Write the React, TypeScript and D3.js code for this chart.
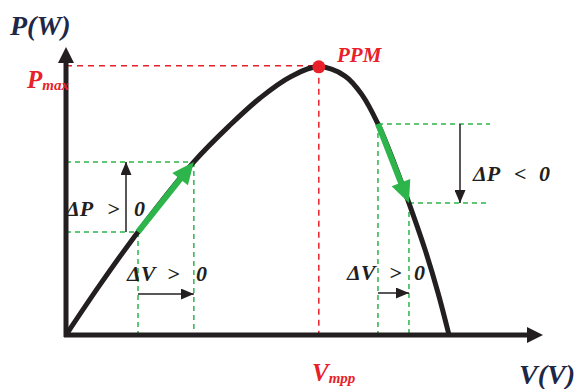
import * as d3 from "d3";
import { useEffect, useRef } from "react";

// P-V curve of a PV panel (V in arbitrary units, P in arbitrary units)
const voltage = [0, 7.1, 15.1, 26.8, 34.4, 40.7, 47.0, 53.0, 58.5, 62.1, 65.4, 68.8, 71.9, 75.3, 78.0, 80.3];
const power = [0, 17.4, 35.8, 60.1, 72.9, 82.3, 89.6, 93.1, 89.9, 83.3, 73.3, 59.7, 45.8, 29.5, 14.6, 0];

// maximum power point
const mpp = { v: 53.0, p: 93.1 };
// perturbation steps: left side (rising) and right side (falling)
const stepLeft = { v0: 15.1, p0: 35.8, v1: 26.8, p1: 60.1 };
const stepRight = { v0: 65.4, p0: 73.3, v1: 71.9, p1: 45.8 };

const labels = {
  yAxis: "P(W)",
  xAxis: "V(V)",
  mpp: "PPM",
};
// delta labels split in pieces: [quantity, sign, zero]
const dpPos = ["ΔP", ">", "0"];
const dpNeg = ["ΔP", "<", "0"];
const dvPos = ["ΔV", ">", "0"];

const W = 587, H = 389;
const GREEN = "#2db54b";
const RED = "#e8202a";
const INK = "#231f20";

const App = () => {
  const ref = useRef<SVGSVGElement | null>(null);

  useEffect(() => {
    const svg = d3.select(ref.current);
    svg.selectAll("*").remove();

    const x = d3.scaleLinear().domain([0, 100]).range([66, 543]);
    const y = d3.scaleLinear().domain([0, 100]).range([335, 47]);

    const defs = svg.append("defs");
    const marker = (id: string, color: string, w: number, h: number) => {
      defs.append("marker")
        .attr("id", id)
        .attr("viewBox", `0 0 ${w} ${h}`)
        .attr("refX", w).attr("refY", h / 2)
        .attr("markerWidth", w).attr("markerHeight", h)
        .attr("markerUnits", "userSpaceOnUse")
        .attr("orient", "auto")
        .append("path")
        .attr("d", `M0,0L${w},${h / 2}L0,${h}Z`)
        .attr("fill", color);
    };
    marker("thin", INK, 13, 11);

    const g = svg.append("g");

    // red dashed guides
    g.append("line")
      .attr("x1", x(0)).attr("x2", x(mpp.v))
      .attr("y1", y(mpp.p) - 1).attr("y2", y(mpp.p) - 1)
      .attr("stroke", RED).attr("stroke-width", 1.5).attr("stroke-dasharray", "6,5");
    g.append("line")
      .attr("x1", x(mpp.v)).attr("x2", x(mpp.v))
      .attr("y1", y(mpp.p)).attr("y2", y(0))
      .attr("stroke", RED).attr("stroke-width", 1.5).attr("stroke-dasharray", "6,5");

    // green dashed guides
    const dash = (x1: number, y1: number, x2: number, y2: number) =>
      g.append("line")
        .attr("x1", x1).attr("y1", y1).attr("x2", x2).attr("y2", y2)
        .attr("stroke", GREEN).attr("stroke-width", 1.5).attr("stroke-dasharray", "5,4");

    dash(x(0), y(stepLeft.p1), x(stepLeft.v1), y(stepLeft.p1));
    dash(x(0), y(stepLeft.p0), x(stepLeft.v0), y(stepLeft.p0));
    dash(x(stepLeft.v0), y(stepLeft.p0), x(stepLeft.v0), y(0));
    dash(x(stepLeft.v1), y(stepLeft.p1), x(stepLeft.v1), y(0));

    dash(x(stepRight.v0), y(stepRight.p0), 490, y(stepRight.p0));
    dash(x(stepRight.v1), y(stepRight.p1), 487, y(stepRight.p1));
    dash(x(stepRight.v0), y(stepRight.p0), x(stepRight.v0), y(0));
    dash(x(stepRight.v1), y(stepRight.p1), x(stepRight.v1), y(0));

    // P-V curve
    const pts = voltage.map((v, i) => [v, power[i]] as [number, number]);
    const line = d3.line<[number, number]>()
      .x((d) => x(d[0])).y((d) => y(d[1]))
      .curve(d3.curveCatmullRom.alpha(0.5));
    g.append("path")
      .attr("d", line(pts))
      .attr("fill", "none").attr("stroke", INK).attr("stroke-width", 5)
      .attr("stroke-linejoin", "round");

    // axes with arrow heads
    g.append("line")
      .attr("x1", x(0)).attr("y1", y(0) + 2).attr("x2", x(0)).attr("y2", 60)
      .attr("stroke", INK).attr("stroke-width", 5);
    g.append("path")
      .attr("d", `M${x(0) - 8},63L${x(0)},${y(100)}L${x(0) + 8},63Z`)
      .attr("fill", INK);
    g.append("line")
      .attr("x1", x(0) - 2).attr("y1", y(0)).attr("x2", 530).attr("y2", y(0))
      .attr("stroke", INK).attr("stroke-width", 5);
    g.append("path")
      .attr("d", `M527,${y(0) - 8}L${x(100)},${y(0)}L527,${y(0) + 8}Z`)
      .attr("fill", INK);

    // green thick arrows along the curve
    const greenArrow = (v0: number, p0: number, v1: number, p1: number) => {
      const ax = x(v0), ay = y(p0), bx = x(v1), by = y(p1);
      const len = Math.hypot(bx - ax, by - ay);
      const ux = (bx - ax) / len, uy = (by - ay) / len;
      const head = 22, half = 10;
      const hx = bx - ux * head, hy = by - uy * head;
      g.append("line")
        .attr("x1", ax).attr("y1", ay).attr("x2", hx + ux * 2).attr("y2", hy + uy * 2)
        .attr("stroke", GREEN).attr("stroke-width", 6);
      g.append("path")
        .attr("d", `M${bx},${by}L${hx - uy * half},${hy + ux * half}L${hx + uy * half},${hy - ux * half}Z`)
        .attr("fill", GREEN);
    };
    greenArrow(stepLeft.v0, stepLeft.p0, stepLeft.v1, stepLeft.p1);
    greenArrow(stepRight.v0, stepRight.p0, stepRight.v1, stepRight.p1);

    // thin black arrows
    const thin = (x1: number, y1: number, x2: number, y2: number) =>
      g.append("line")
        .attr("x1", x1).attr("y1", y1).attr("x2", x2).attr("y2", y2)
        .attr("stroke", INK).attr("stroke-width", 1.5)
        .attr("marker-end", "url(#thin)");
    thin(126, y(stepLeft.p0), 126, y(stepLeft.p1));
    thin(x(stepLeft.v0), 294, x(stepLeft.v1), 294);
    thin(460, y(stepRight.p0), 460, y(stepRight.p1));
    thin(x(stepRight.v0), 293, x(stepRight.v1), 293);

    // MPP dot
    g.append("circle")
      .attr("cx", x(mpp.v)).attr("cy", y(mpp.p)).attr("r", 6.5)
      .attr("fill", RED);

    // text
    const font = "'Liberation Serif', 'DejaVu Serif', serif";
    const txt = (t: string, tx: number, ty: number, size: number, color: string) =>
      g.append("text")
        .attr("x", tx).attr("y", ty)
        .attr("font-family", font).attr("font-style", "italic").attr("font-weight", "bold")
        .attr("font-size", size).attr("fill", color)
        .text(t);
    txt(labels.yAxis, 10, 35, 28, "#1d2747");
    txt(labels.xAxis, 519, 384, 28, "#1d2747");
    txt(labels.mpp, 337, 62, 21, RED);

    const delta = (parts: string[], xs: number[], ty: number) => {
      const el = g.append("text")
        .attr("y", ty)
        .attr("font-family", font).attr("font-style", "italic").attr("font-weight", "bold")
        .attr("font-size", 22).attr("fill", INK);
      parts.forEach((p, i) => el.append("tspan").attr("x", xs[i]).text(p));
    };
    delta(dpPos, [66, 107, 134], 216);
    delta(dvPos, [127, 167, 196], 281);
    delta(dpNeg, [473, 514, 539], 181);
    delta(dvPos, [347, 389, 414], 280);

    const sub = (main: string, s: string, tx: number, ty: number) => {
      const el = g.append("text")
        .attr("x", tx).attr("y", ty)
        .attr("font-family", font).attr("font-style", "italic").attr("font-weight", "bold")
        .attr("fill", RED);
      el.append("tspan").attr("font-size", 25).text(main);
      el.append("tspan").attr("font-size", 15).attr("dy", 2).text(s);
    };
    sub("P", "max", 27, 88);
    sub("V", "mpp", 312, 381);
  }, []);

  return (
    <svg ref={ref} width={W} height={H}
      style={{ position: "absolute", left: 0, top: 0, background: "#fff" }} />
  );
};

export default App;
